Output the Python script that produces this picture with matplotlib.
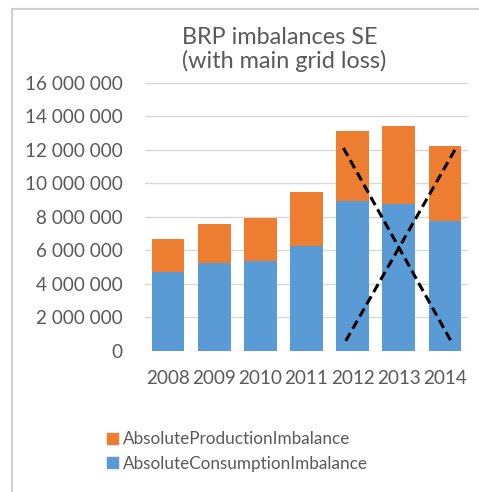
import matplotlib.pyplot as plt
from matplotlib.ticker import FuncFormatter
from matplotlib.patches import Patch
from matplotlib.lines import Line2D

plt.rcParams['font.family'] = ['Lato', 'DejaVu Sans']

# yearly BRP imbalances (MWh)
years = ['2008', '2009', '2010', '2011', '2012', '2013', '2014']
consumption = [4.70e6, 5.22e6, 5.34e6, 6.28e6, 8.93e6, 8.77e6, 7.73e6]
production = [1.98e6, 2.36e6, 2.60e6, 3.19e6, 4.19e6, 4.65e6, 4.47e6]

# crossed-out years 2012-2014
cross_a_x = [3.80, 6.13]
cross_a_y = [12.1e6, 0.6e6]
cross_b_x = [3.85, 6.24]
cross_b_y = [0.6e6, 12.1e6]

blue = '#5B9BD5'
orange = '#ED7D31'
grey = '#595959'

fig = plt.figure(figsize=(4.79, 4.92), dpi=100)
ax = fig.add_axes([145 / 479, 1 - 351 / 492, 323 / 479, 268.5 / 492])

x = range(len(years))
ax.bar(x, consumption, width=0.71, color=blue, zorder=2)
ax.bar(x, production, width=0.71, bottom=consumption, color=orange, zorder=2)

ax.plot(cross_a_x, cross_a_y, color='black', lw=2.2, ls=(0, (3, 1.6)), zorder=3)
ax.plot(cross_b_x, cross_b_y, color='black', lw=2.2, ls=(0, (3, 1.6)), zorder=3)

ax.set_xlim(-0.5, 6.5)
ax.set_ylim(0, 16e6)
ax.set_yticks(range(0, 16000001, 2000000))
ax.yaxis.set_major_formatter(FuncFormatter(lambda v, p: f'{int(v):,}'.replace(',', ' ')))
ax.set_xticks(list(x))
ax.set_xticklabels(years)
ax.grid(axis='y', color='#D9D9D9', lw=1, zorder=0)
for s in ax.spines.values():
    s.set_visible(False)
ax.tick_params(length=0, labelsize=13.6, colors=grey)
ax.tick_params(axis='y', pad=16)
ax.tick_params(axis='x', pad=14)

fig.text(0.585, 1 - 38 / 492, 'BRP imbalances SE', ha='center', va='center',
         fontsize=16.8, color=grey)
fig.text(0.594, 1 - 61 / 492, '(with main grid loss)', ha='center', va='center',
         fontsize=16.8, color=grey)

handles = [Patch(color=orange), Patch(color=blue)]
fig.legend(handles, ['AbsoluteProductionImbalance', 'AbsoluteConsumptionImbalance'],
           loc='upper left', bbox_to_anchor=(92 / 479, 1 - 416 / 492), frameon=False,
           fontsize=12.3, labelcolor=grey, handlelength=0.6, handleheight=0.6,
           handletextpad=0.3, labelspacing=0.5)

# outer chart frame
fig.add_artist(Line2D([12 / 479, 12 / 479], [0, 1 - 9 / 492], color='#CFCFCF', lw=1.5))
fig.add_artist(Line2D([12 / 479, 1], [1 - 9 / 492, 1 - 9 / 492], color='#CFCFCF', lw=1.5))

fig.savefig('out.png', dpi=100)
